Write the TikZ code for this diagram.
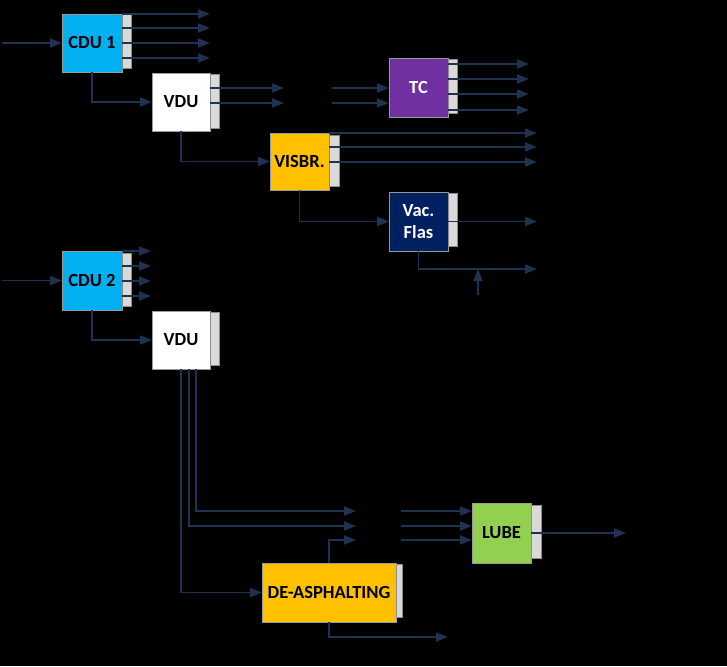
\documentclass[tikz,border=0pt]{standalone}
\usepackage{fontspec}
\setmainfont{Carlito}
\usepackage{tikz}
\usetikzlibrary{arrows.meta, calc}
\usepackage{xcolor}
\definecolor{linenavy}{RGB}{31,50,82}
\definecolor{cdublue}{RGB}{0,176,240}
\definecolor{tcpurple}{RGB}{112,48,160}
\definecolor{visgold}{RGB}{255,192,0}
\definecolor{vacnavy}{RGB}{0,32,96}
\definecolor{lubegreen}{RGB}{146,208,80}
\definecolor{sidegray}{RGB}{217,217,217}

\begin{document}
\begin{tikzpicture}[x=1pt, y=-1pt,
  unit/.style={draw=black!40, line width=0.6pt, anchor=north west, inner sep=0pt, outer sep=0pt,
    minimum width=59pt, minimum height=58pt, align=center,
    font=\fontsize{18.5}{22}\selectfont\bfseries},
  side/.style={fill=sidegray, draw=black!45, line width=0.5pt, anchor=north west,
    inner sep=0pt, outer sep=0pt, minimum width=9pt},
  flow/.style={draw=linenavy, line width=1.8pt, -{Triangle[length=12pt, width=9pt]}}]
\fill[black] (0,0) rectangle (727,666);

% units
\node[unit, fill=cdublue, minimum width=60pt] (cdua) at (62,14) {CDU 1};
\node[unit, fill=white, minimum width=58pt] (vdua) at (152,73) {VDU};
\node[unit, fill=tcpurple, text=white, minimum height=59pt] (tc) at (389,58) {TC};
\node[unit, fill=visgold, minimum height=57pt] (visbr) at (270,133) {VISBR.};
\node[unit, fill=vacnavy, text=white, minimum height=59pt] (vac) at (389,192) {Vac.\\Flas};
\node[unit, fill=cdublue, minimum width=60pt, minimum height=59pt] (cdub) at (62,251) {CDU 2};
\node[unit, fill=white, minimum width=58pt] (vdub) at (152,311) {VDU};
\node[unit, fill=visgold, minimum width=134pt, minimum height=59pt] (deas) at (262,563) {DE-ASPHALTING};
\node[unit, fill=lubegreen, minimum height=60pt] (lube) at (472,503) {LUBE};

% side bars
\node[side, minimum height=55pt] (cduaside) at ([yshift=1pt]cdua.north east) {};
\node[side, minimum height=54pt] (vduaside) at ([yshift=-1pt]vdua.north east) {};
\node[side, minimum height=54pt] (tcside) at ([yshift=-1pt]tc.north east) {};
\node[side, minimum height=51pt, minimum width=10pt] (visbrside) at ([yshift=-2pt]visbr.north east) {};
\node[side, minimum height=53pt] (vacside) at ([yshift=-1pt]vac.north east) {};
\node[side, minimum height=53pt] (cdubside) at ([yshift=-2pt]cdub.north east) {};
\node[side, minimum height=53pt] (vdubside) at ([yshift=-1pt]vdub.north east) {};
\node[side, minimum height=53pt, minimum width=6pt] (deasside) at ([yshift=-1pt]deas.north east) {};
\node[side, minimum height=53pt, minimum width=10pt] (lubeside) at ([yshift=-2pt]lube.north east) {};

% free ends
\coordinate (tcina) at (332,88);
\coordinate (tcinb) at (332,103);
\coordinate (vacouta) at (537,222);
\coordinate (vacoutb) at (537,269);
\coordinate (feed) at (478,295);
\coordinate (gapa) at (356,511);
\coordinate (gapb) at (356,526);
\coordinate (gapc) at (356,540);
\coordinate (lubina) at (401,511);
\coordinate (lubinb) at (401,526);
\coordinate (lubinc) at (401,540);
\coordinate (deasout) at (448,637);
\coordinate (lubeout) at (626,533);

% first train
\draw[flow] ([xshift=-60pt]cdua.west) -- (cdua.west);
\foreach \dy in {0,14,29,44} \draw[flow] ([yshift=-\dy pt]cdua.north east) -- ++(88,0);
\draw[flow] (cdua.south) |- (vdua.west);
\foreach \dy in {15,30} \draw[flow] ([yshift=-\dy pt]vdua.north east) -- ++(74,0);
\draw[flow] (vdua.south) |- (visbr.west);
\foreach \c in {tcina,tcinb} \draw[flow] (\c) -- (\c -| tc.west);
\foreach \dy in {6,21,36,52} \draw[flow] ([yshift=-\dy pt]tc.north east) -- ++(81,0);
\foreach \dy in {0,14,29} \draw[flow] ([yshift=-\dy pt]visbr.north east) -- ++(208,0);
\draw[flow] (visbr.south) |- (vac.west);
\draw[flow] (vac.east) -- (vac.east -| vacouta);
\draw[flow] (vac.south) |- (vacoutb);
\draw[flow] (feed) -- (feed |- vacoutb);

% second train
\draw[flow] ([xshift=-60pt]cdub.west) -- (cdub.west);
\foreach \dy in {0,15,30,45} \draw[flow] ([yshift=-\dy pt]cdub.north east) -- ++(29,0);
\draw[flow] (cdub.south) |- (vdub.west);
\draw[flow] ([xshift=15pt]vdub.south) |- (gapa);
\draw[flow] ([xshift=8pt]vdub.south) |- (gapb);
\draw[flow] (vdub.south) |- (deas.west);
\draw[flow] (deas.north) |- (gapc);
\draw[flow] (deas.south) |- (deasout);
\foreach \c in {lubina,lubinb,lubinc} \draw[flow] (\c) -- (\c -| lube.west);
\draw[flow] (lube.east) -- (lubeout);
\end{tikzpicture}
\end{document}
